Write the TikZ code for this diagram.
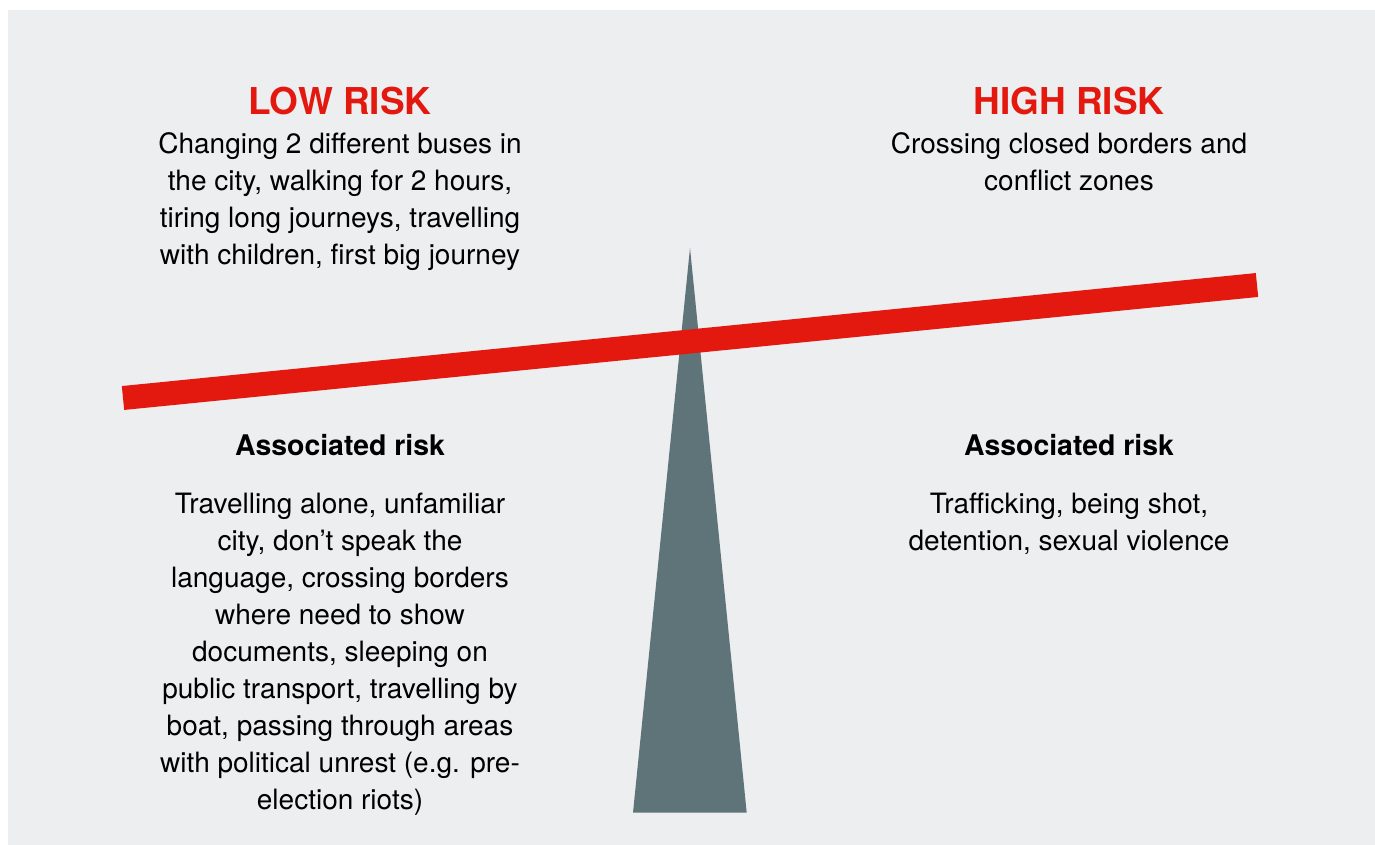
\documentclass[tikz,border=0pt]{standalone}
\usepackage{fontspec}
\setmainfont{TeX Gyre Heros}
\usepackage{tikz}
\usetikzlibrary{positioning,calc}

\definecolor{panelgray}{HTML}{EDEEF0}
\definecolor{riskred}{HTML}{E3190F}
\definecolor{pivotgray}{HTML}{5E7478}

\tikzset{
  heading/.style={text=riskred,font=\fontsize{18.5}{22}\selectfont\bfseries},
  subhead/.style={font=\fontsize{14.2}{18.5}\selectfont\bfseries},
  body/.style={align=center,font=\fontsize{14}{18.5}\selectfont}
}

\begin{document}
\begin{tikzpicture}[x=0.5pt,y=-0.5pt]
\useasboundingbox (0,0) rectangle (1375,845);
\fill[panelgray] (8,10) rectangle (1375,845);
% pivot and beam
\fill[pivotgray] (690,248) -- (746.7,812.7) -- (633,812.7) -- cycle;
\draw[riskred,line width=12pt] (123,398) -- (1257,285);
% left side
\node[heading] (lowhead) at (340,101) {LOW RISK};
\node[body,anchor=north] (lowtext) at (340,126) {Changing 2 different buses in\\the city, walking for 2 hours,\\tiring long journeys, travelling\\with children, first big journey};
\node[subhead] (lowassoc) at (340,445) {Associated risk};
\node[body,anchor=north] (lowrisks) at (340,486) {Travelling alone, unfamiliar\\city, don’t speak the\\language, crossing borders\\where need to show\\documents, sleeping on\\public transport, travelling by\\boat, passing through areas\\with political unrest (e.g. pre-\\election riots)};
% right side
\node[heading] (highhead) at (1069,101) {HIGH RISK};
\node[body,anchor=north] (hightext) at (1069,126) {Crossing closed borders and\\conflict zones};
\node[subhead] (highassoc) at (1069,445) {Associated risk};
\node[body,anchor=north] (highrisks) at (1069,486) {Trafficking, being shot,\\detention, sexual violence};
\end{tikzpicture}
\end{document}
